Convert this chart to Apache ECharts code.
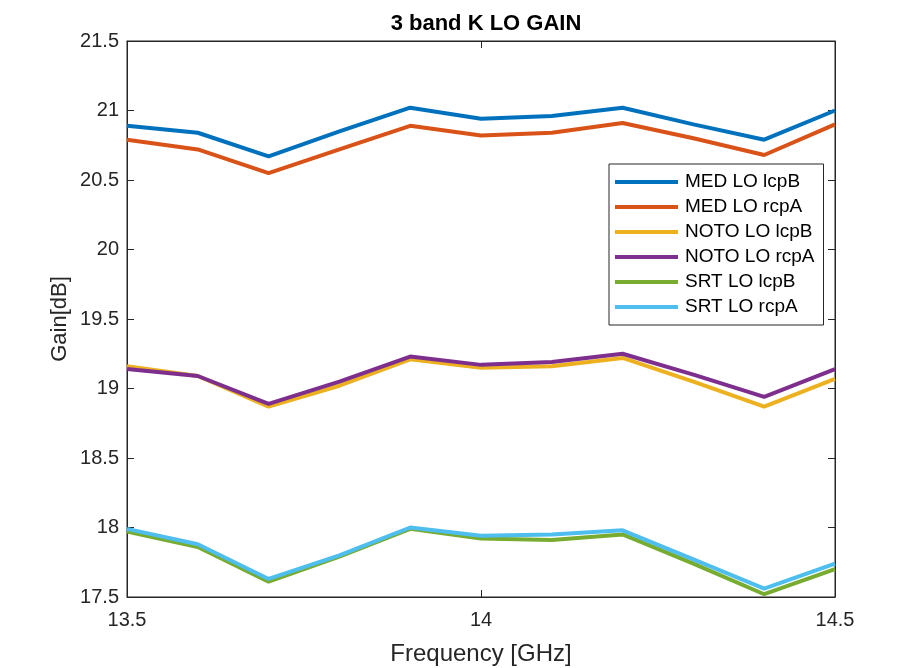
<!DOCTYPE html>
<html>
<head>
<meta charset="utf-8">
<script src="https://cdn.jsdelivr.net/npm/echarts@6/dist/echarts.min.js"></script>
<style>
  html, body { margin: 0; padding: 0; background: #fff; }
  #chart { width: 909px; height: 668px; }
</style>
</head>
<body>
<div id="chart"></div>
<script>
// frequency points [GHz]
const freq = [13.5, 13.6, 13.7, 13.8, 13.9, 14.0, 14.1, 14.2, 14.3, 14.4, 14.5];

// gain values [dB]
const medLcpB = [20.89, 20.84, 20.67, 20.85, 21.02, 20.94, 20.96, 21.02, 20.90, 20.79, 21.00];
const medRcpA = [20.79, 20.72, 20.55, 20.72, 20.89, 20.82, 20.84, 20.91, 20.80, 20.68, 20.90];
const notoLcpB = [19.16, 19.09, 18.87, 19.02, 19.21, 19.15, 19.16, 19.22, 19.05, 18.87, 19.07];
const notoRcpA = [19.14, 19.09, 18.89, 19.05, 19.23, 19.17, 19.19, 19.25, 19.10, 18.94, 19.14];
const srtLcpB = [17.97, 17.86, 17.61, 17.79, 17.99, 17.92, 17.91, 17.95, 17.74, 17.52, 17.70];
const srtRcpA = [17.99, 17.88, 17.63, 17.80, 18.00, 17.94, 17.95, 17.98, 17.77, 17.56, 17.74];

const names = ["MED LO lcpB", "MED LO rcpA", "NOTO LO lcpB", "NOTO LO rcpA", "SRT LO lcpB", "SRT LO rcpA"];
const colors = ["#0072BD", "#D95319", "#EDB120", "#7E2F8E", "#77AC30", "#4DBEEE"];
const allData = [medLcpB, medRcpA, notoLcpB, notoRcpA, srtLcpB, srtRcpA];

const font = "Liberation Sans, Arial, sans-serif";
const axisColor = "#262626";

const chart = echarts.init(document.getElementById("chart"));

const series = allData.map((vals, i) => ({
  name: names[i],
  type: "line",
  data: vals.map((v, k) => [freq[k], v]),
  showSymbol: false,
  symbol: "none",
  lineStyle: { width: 4, color: colors[i] },
  itemStyle: { color: colors[i] },
  animation: false
}));

const option = {
  backgroundColor: "#fff",
  animation: false,
  title: {
    text: "3 band K LO GAIN",
    left: 481,
    textAlign: "center",
    top: 8,
    textStyle: { fontFamily: font, fontSize: 22, fontWeight: "bold", color: "#000" }
  },
  grid: {
    left: 127, right: 74, top: 41, bottom: 71,
    containLabel: false,
    outerBoundsMode: "none",
    show: true, borderColor: axisColor, borderWidth: 1
  },
  legend: {
    orient: "vertical",
    left: 609,
    top: 164,
    icon: "rect",
    itemWidth: 63,
    itemHeight: 4,
    itemGap: 3,
    padding: [7, 9, 7, 6],
    borderColor: axisColor,
    borderWidth: 1,
    backgroundColor: "#fff",
    textStyle: { fontFamily: font, fontSize: 19, color: "#000", lineHeight: 22, padding: [0, 0, 0, 2] },
    data: names
  },
  xAxis: [{
    type: "value",
    min: 13.5, max: 14.5, interval: 0.5,
    name: "Frequency [GHz]",
    nameLocation: "middle",
    nameGap: 45,
    nameMoveOverlap: false,
    nameTextStyle: { fontFamily: font, fontSize: 24, color: axisColor },
    axisLine: { show: true, lineStyle: { color: axisColor } },
    axisTick: { inside: true, length: 7, lineStyle: { color: axisColor } },
    axisLabel: { fontFamily: font, fontSize: 20, color: axisColor, margin: 13 },
    splitLine: { show: false }
  }, {
    type: "value", position: "top",
    min: 13.5, max: 14.5, interval: 0.5,
    axisLine: { show: true, lineStyle: { color: axisColor } },
    axisTick: { inside: true, length: 7, lineStyle: { color: axisColor } },
    axisLabel: { show: false },
    splitLine: { show: false }
  }],
  yAxis: [{
    type: "value",
    min: 17.5, max: 21.5, interval: 0.5,
    name: "Gain[dB]",
    nameLocation: "middle",
    nameGap: 56,
    nameMoveOverlap: false,
    nameTextStyle: { fontFamily: font, fontSize: 22, color: axisColor },
    axisLine: { show: true, lineStyle: { color: axisColor } },
    axisTick: { inside: true, length: 7, lineStyle: { color: axisColor } },
    axisLabel: { fontFamily: font, fontSize: 20, color: axisColor, margin: 8 },
    splitLine: { show: false }
  }, {
    type: "value", position: "right",
    min: 17.5, max: 21.5, interval: 0.5,
    axisLine: { show: true, lineStyle: { color: axisColor } },
    axisTick: { inside: true, length: 7, lineStyle: { color: axisColor } },
    axisLabel: { show: false },
    splitLine: { show: false }
  }],
  series: series
};

chart.setOption(option);
</script>
</body>
</html>
